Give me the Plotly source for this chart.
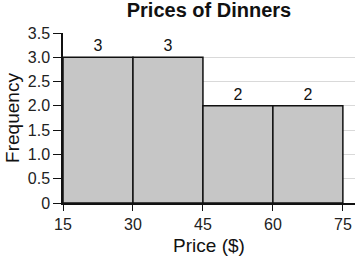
import plotly.graph_objects as go

bin_starts = [15, 30, 45, 60]
bin_width = 15
frequencies = [3, 3, 2, 2]
x_ticks = [15, 30, 45, 60, 75]
y_ticks = [0, 0.5, 1.0, 1.5, 2.0, 2.5, 3.0, 3.5]
y_tick_labels = ["0", "0.5", "1.0", "1.5", "2.0", "2.5", "3.0", "3.5"]

FONT = "Liberation Sans, Arial, sans-serif"

centers = [s + bin_width / 2 for s in bin_starts]

fig = go.Figure(go.Bar(
    x=centers,
    y=frequencies,
    width=[bin_width] * len(centers),
    marker=dict(color="#c6c6c6", line=dict(color="#111111", width=1.5)),
    text=[str(v) for v in frequencies],
    textposition="outside",
    textfont=dict(family=FONT, size=16, color="#111111"),
    cliponaxis=False,
))

fig.update_layout(
    width=355, height=261,
    margin=dict(l=63, r=0, t=33, b=58),
    paper_bgcolor="white", plot_bgcolor="white",
    showlegend=False,
    title=dict(text="<b>Prices of Dinners</b>", x=0.5, xref="paper",
               y=0.99, yref="container", yanchor="top",
               font=dict(family=FONT, size=20, color="#111111")),
    xaxis=dict(range=[15, 77.6], tickvals=x_ticks, showgrid=False,
               showline=True, linecolor="#111111", linewidth=1.5,
               ticks="outside", ticklen=6, tickcolor="#111111",
               tickfont=dict(family=FONT, size=16, color="#222222"),
               title=dict(text="Price ($)", standoff=7,
                          font=dict(family=FONT, size=19, color="#111111")),
               zeroline=False),
    yaxis=dict(range=[0, 3.5], tickvals=y_ticks, ticktext=y_tick_labels,
               showgrid=True, gridcolor="#d9d9d9", gridwidth=1,
               showline=True, linecolor="#111111", linewidth=1.5,
               ticks="outside", ticklen=8, tickcolor="#111111",
               tickfont=dict(family=FONT, size=16, color="#222222"),
               title=dict(text="Frequency", standoff=3,
                          font=dict(family=FONT, size=19, color="#111111")),
               zeroline=False),
)

fig.write_html("out.html")
